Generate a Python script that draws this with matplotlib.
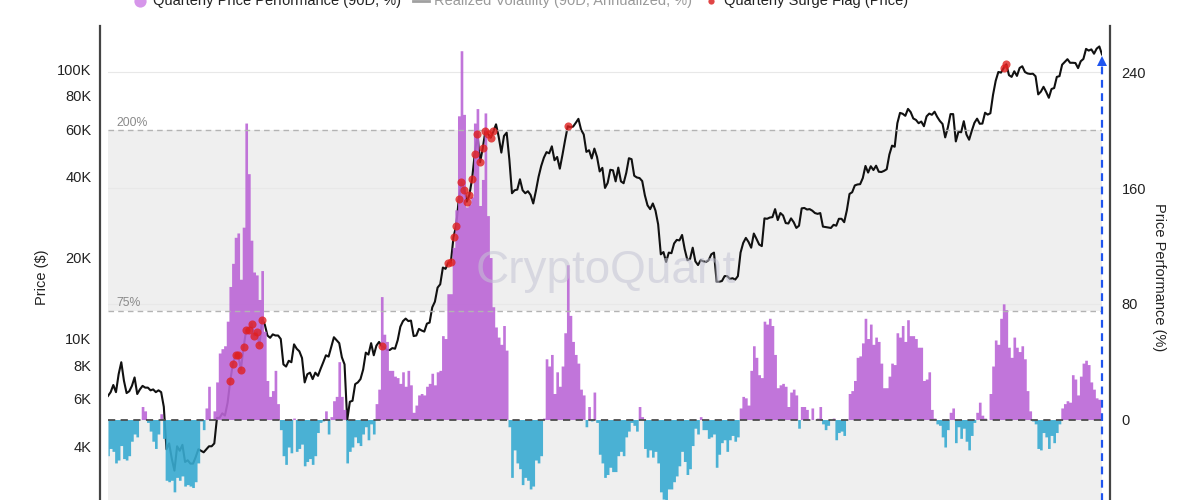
import numpy as np
import pandas as pd
import matplotlib
matplotlib.use("Agg")
import matplotlib.pyplot as plt
from matplotlib.transforms import blended_transform_factory
from matplotlib.patches import Rectangle
from matplotlib.lines import Line2D
from matplotlib.ticker import NullLocator

plt.rcParams['font.family'] = ['Liberation Sans', 'DejaVu Sans']

# ---------------- data (weekly) ----------------
start_date = '2018-06-24'

price_2018 = [6150, 6350, 6750, 6350, 7400, 8200, 7000, 6300, 6400, 6700, 7200, 6250, 6500, 6700,
              6600, 6600, 6450, 6500, 6350, 6450, 6350, 5600, 3900, 4100, 3600, 3250, 4000, 3850]
price_2019 = [4050, 3500, 3550, 3450, 3450, 3650, 3900, 3850, 3800, 3900, 4000, 4000, 4100,
              5100, 5100, 5300, 5200, 5800, 7000, 8100, 8700, 8700, 7700, 9300, 10800, 10800,
              11400, 10300, 10600, 9500, 11800, 11300, 10300, 10100, 10400, 10300, 10300, 10000, 8050,
              7900, 8300, 8200, 9550, 9200, 9000, 8500, 6900, 7400, 7500, 7100, 7500, 7300]
price_2020 = [7750, 8200, 8700, 8600, 9350, 10150, 9900, 9650, 8550, 8050, 5000, 5850, 5900,
              6800, 6900, 7100, 7700, 8900, 8750, 9650, 8700, 9450, 9750, 9400, 9300, 9100,
              9100, 9250, 9200, 9900, 11100, 11650, 11900, 11650, 11700, 10250, 10300, 10900, 10750,
              10650, 11400, 11500, 13100, 13750, 15500, 15950, 18400, 18200, 19150, 19250, 23850, 26300]
price_2021 = [33000, 38200, 35800, 32300, 34300, 39300, 48600, 57500, 45200, 51000, 59000, 57500, 55800,
              58800, 62500, 56200, 49100, 56600, 58200, 46400, 34700, 35600, 35800, 39100, 35600, 34700,
              35300, 34200, 31800, 35400, 39900, 43800, 47000, 49300, 48800, 51800, 46000, 47300, 42800,
              48200, 54700, 61500, 61000, 61300, 63300, 65500, 59700, 57300, 49400, 50100, 46700, 50800]
price_2022 = [47300, 41800, 43100, 36300, 37900, 42400, 42200, 38400, 43200, 38400, 37800, 41300, 46800,
              46400, 40300, 39700, 39500, 38500, 34100, 31300, 30300, 31800, 29900, 26600, 20600, 21000,
              19300, 20900, 20800, 22600, 23300, 23200, 24300, 21500, 19600, 19800, 21800, 19400, 18800,
              19600, 19400, 19300, 19600, 20600, 20900, 16300, 16300, 16400, 17100, 17100, 16700, 16800]
price_2023 = [16600, 17100, 20900, 22700, 23700, 22900, 21800, 24600, 23500, 22400, 22100, 28000, 27900,
              28200, 28300, 30300, 27600, 29300, 28700, 26900, 26800, 28000, 27100, 25800, 26300, 30500,
              30600, 30200, 30300, 29900, 29300, 29100, 29300, 26100, 26000, 25900, 25800, 26500, 26300,
              27900, 27900, 27100, 30000, 34500, 35000, 37100, 37400, 37500, 39500, 43800, 41400, 43700, 42300]
price_2024 = [43900, 41700, 41600, 42000, 42600, 48300, 52100, 51600, 63100, 68900, 68400, 67200, 71300,
              69400, 65700, 64900, 63100, 64000, 61500, 66900, 68500, 67800, 69600, 66600, 64300, 62700,
              55900, 60800, 68200, 68200, 54000, 58700, 58400, 64200, 57300, 54800, 59100, 63300, 65600,
              62800, 62900, 69000, 67900, 68700, 80400, 90600, 97700, 97200, 101100, 104300, 95100, 93700]
price_2025 = [98300, 94500, 101100, 102600, 97700, 96500, 96100, 96300, 94200, 80700, 82600, 86100, 82400,
              78400, 84500, 85200, 93700, 94300, 104000, 106400, 109000, 105700, 105700, 105500, 101000, 107100,
              109200, 119000, 117300, 118500, 114200, 119300, 121500, 113500]

perf_2018 = [-25, -20, -22, -30, -28, -18, -27, -28, -25, -15, -10, -12, 0, 9,
             6, -2, -8, -15, -20, -10, 4, -13, -42, -43, -42, -50, -40, -42]
perf_2019 = [-39, -46, -45, -46, -47, -43, -30, -1, -7, 8, 23, 0, 6,
             26, 46, 49, 51, 68, 92, 108, 126, 129, 97, 133, 205, 170,
             124, 102, 100, 83, 103, 61, 27, 16, 20, 34, 11, -7, -25,
             -31, -19, -23, 1, -22, -20, -17, -32, -29, -27, -31, -25, -9]
perf_2020 = [-2, -1, 6, -10, 2, 13, 16, 40, 16, 7, -30, -22, -19,
             -12, -16, -18, -10, -5, -14, -3, -10, 11, 21, 85, 59, 54,
             34, 34, 30, 29, 25, 33, 23, 34, 24, 5, 10, 17, 18,
             17, 23, 25, 32, 24, 33, 34, 58, 56, 87, 87, 119, 145]
perf_2021 = [210, 255, 211, 147, 149, 154, 205, 215, 148, 166, 212, 141, 112,
             78, 64, 57, 52, 65, 48, -5, -40, -21, -30, -34, -45, -40,
             -42, -48, -46, -28, -30, -25, 1, 42, 37, 45, 18, 33, 23,
             37, 60, 107, 72, 54, 45, 39, 21, 17, -5, 9, -1, 19]
perf_2022 = [-2, -24, -30, -40, -38, -33, -36, -36, -25, -22, -25, -12, -8,
             -2, -4, -8, 9, 2, -20, -26, -21, -26, -22, -30, -50, -55,
             -58, -48, -48, -43, -39, -32, -22, -29, -38, -34, -18, -6, -10,
             2, -7, -7, -13, -12, -10, -33, -24, -16, -14, -22, -14, -11]
perf_2023 = [-15, -12, 8, 16, 15, 10, 34, 51, 43, 31, 29, 68, 66,
             70, 65, 45, 22, 24, 25, 23, 9, 19, 21, 17, -6, 9,
             9, 7, 0, 8, 0, 1, 9, -3, -7, -4, 0, 1, -14,
             -9, -8, -11, 0, 18, 20, 27, 43, 44, 53, 70, 56, 66, 52]
perf_2024 = [57, 54, 39, 22, 22, 30, 39, 38, 60, 57, 65, 54, 69,
             58, 58, 56, 50, 50, 27, 28, 33, 7, 1, -3, -4, -12,
             -19, -7, 5, 8, -16, -5, -13, -6, -15, -21, -11, -2, 5,
             12, 3, 1, 0, 18, 37, 55, 52, 70, 80, 76, 50, 43]
perf_2025 = [57, 50, 47, 51, 42, 20, 6, -1, -3, -20, -21, -9, -12,
             -20, -11, -16, -9, -3, 8, 11, 13, 12, 31, 28, 17, 30,
             39, 41, 38, 26, 21, 15, 14, 4]

surge_threshold = 75
price_ticks = [4000, 6000, 8000, 10000, 20000, 40000, 60000, 80000, 100000]
price_tick_labels = ['4K', '6K', '8K', '10K', '20K', '40K', '60K', '80K', '100K']
perf_ticks = [0, 80, 160, 240]
band_levels = [75, 200]

price = np.array(price_2018 + price_2019 + price_2020 + price_2021 +
                 price_2022 + price_2023 + price_2024 + price_2025, dtype=float)
perf = np.array(perf_2018 + perf_2019 + perf_2020 + perf_2021 +
                perf_2022 + perf_2023 + perf_2024 + perf_2025, dtype=float)
dates = pd.date_range(start_date, periods=len(price), freq='7D')

# ---------------- figure ----------------
PURPLE = '#bb66d6'
BLUE = '#38abd1'
BAND = '#efefef'

fig = plt.figure(figsize=(12, 5), dpi=100)
ax = fig.add_axes([108 / 1200, -0.056, 994 / 1200, 1.004])
ax2 = ax.twinx()

ax.set_yscale('log')

trans_band = blended_transform_factory(ax.transAxes, ax2.transData)
# shaded zones (drawn in the lower price axes so the price line sits above them)
ax.add_patch(Rectangle((0, band_levels[0]), 1, band_levels[1] - band_levels[0],
                       transform=trans_band, facecolor=BAND, lw=0, zorder=0.5))
ax.add_patch(Rectangle((0, -200), 1, 200, transform=trans_band,
                       facecolor=BAND, lw=0, zorder=0.5))
for v in perf_ticks[1:]:
    ax.add_line(Line2D([0, 1], [v, v], transform=trans_band, color='#e8e8e8',
                       lw=0.8, zorder=0.8))

# price line
ax.plot(dates, price, color='#111111', lw=1.5, zorder=2, solid_joinstyle='round')

# performance areas (step-filled so they read as dense bars)
pos = np.where(perf > 0, perf, 0)
neg = np.where(perf < 0, perf, 0)
ax2.fill_between(dates, 0, pos, step='mid', color=PURPLE, alpha=0.9, linewidth=0, zorder=2)
ax2.fill_between(dates, 0, neg, step='mid', color=BLUE, alpha=0.9, linewidth=0, zorder=2)

# reference lines
ax2.axhline(0, color='#4d4d4d', lw=1.3, ls=(0, (4, 3)), zorder=3)
for lvl in band_levels:
    ax2.axhline(lvl, color='#b3b3b3', lw=1.0, ls=(0, (4, 3)), zorder=3)
    ax2.text(0.008, lvl + 1.2, f'{lvl}%', transform=blended_transform_factory(ax2.transAxes, ax2.transData),
             fontsize=8.8, color='#8a8a8a', ha='left', va='bottom', zorder=4)

# surge flags on the price line
flag = perf >= surge_threshold
ax2.scatter(dates[flag], price[flag], transform=ax.transData, s=34, color='#e0201f',
            alpha=0.8, linewidths=0, zorder=5)

# current-value marker (blue dashed arrow at last date)
arrow_top = 248
ax2.plot([dates[-1], dates[-1]], [-75, arrow_top - 3], color='#1f55f0', lw=1.6,
         ls=(0, (3.5, 2.5)), zorder=6, clip_on=False)
ax2.plot([dates[-1]], [arrow_top], marker='^', ms=6.5, color='#1f55f0', mew=0, zorder=6,
         clip_on=False)

# ---------------- axes styling ----------------
for a in (ax, ax2):
    a.spines['top'].set_visible(False)
    a.spines['bottom'].set_visible(False)
    a.tick_params(axis='x', which='both', bottom=False, labelbottom=False)
ax.spines['right'].set_visible(False)
ax2.spines['left'].set_visible(False)
ax.spines['left'].set_position(('outward', 6))
ax2.spines['right'].set_position(('outward', 6))
ax.spines['left'].set_color('#444444')
ax.spines['left'].set_linewidth(1.6)
ax2.spines['right'].set_color('#444444')
ax2.spines['right'].set_linewidth(1.6)

ax.set_yticks(price_ticks)
ax.set_yticklabels(price_tick_labels)
ax.yaxis.set_minor_locator(NullLocator())
ax.tick_params(axis='y', which='both', length=0, pad=6, labelsize=10.5, labelcolor='#222222')
ax2.set_yticks(perf_ticks)
ax2.set_yticklabels([str(t) for t in perf_ticks])
ax2.tick_params(axis='y', which='both', length=0, pad=8, labelsize=10.5, labelcolor='#222222')

ax.set_ylabel('Price ($)', fontsize=10.5, color='#222222')
ax.yaxis.set_label_coords((42 - 108) / 994, 0.5)
ax.yaxis.label.set_va('center')
ax2.set_ylabel('Price Performance (%)', fontsize=10.5, color='#222222', rotation=270)
ax2.yaxis.set_label_coords((1159 - 108) / 994, 0.5)
ax2.yaxis.label.set_va('center')
ax2.yaxis.label.set_ha('center')

ax.set_xlim(dates[0], dates[-1])
ax.set_ylim(1991, 144700)
ax2.set_ylim(-75, 272.1)

# ---------------- legend (top, partially clipped as in the reference) ----------------
ly = 1 - 4.5 / 500
mky = 1 - 0.5 / 500
fig.add_artist(Line2D([140 / 1200], [mky], marker='o', ms=8.8, color='#d696ea', mew=0,
                      transform=fig.transFigure))
fig.text(153 / 1200, ly, 'Quarterly Price Performance (90D, %)', fontsize=10.5,
         color='#222222', va='baseline', ha='left')
fig.add_artist(Line2D([413 / 1200, 429 / 1200], [mky, mky], color='#a0a0a0', lw=2,
                      transform=fig.transFigure))
fig.text(434 / 1200, ly, 'Realized Volatility (90D, Annualized, %)', fontsize=10.5,
         color='#9a9a9a', va='baseline', ha='left')
fig.add_artist(Line2D([711 / 1200], [mky], marker='o', ms=4.5, color='#e04545', mew=0,
                      transform=fig.transFigure))
fig.text(724 / 1200, ly, 'Quarterly Surge Flag (Price)', fontsize=10.5,
         color='#222222', va='baseline', ha='left')

# watermark
fig.text(606 / 1200, 1 - 271 / 500, 'CryptoQuant', fontsize=33, color='#c4c4d4', alpha=0.55,
         ha='center', va='center', zorder=10)

fig.savefig('out.png', dpi=100)
